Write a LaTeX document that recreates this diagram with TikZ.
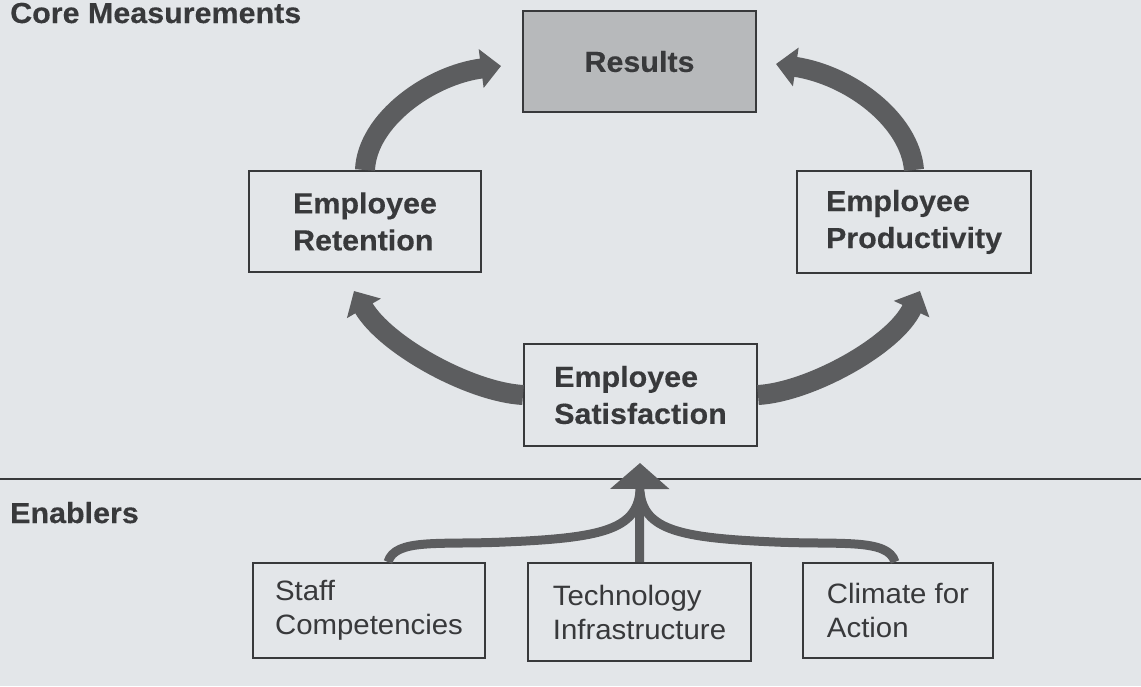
\documentclass[tikz,border=0pt]{standalone}
\usepackage{fontspec}
\setmainfont{Liberation Sans}
\newfontfamily\hbold[FakeStretch=1.05,FakeBold=0.3]{Liberation Sans Bold}
\newfontfamily\hreg[FakeStretch=1.05]{Liberation Sans}
\usetikzlibrary{arrows.meta,calc}
\definecolor{bg}{HTML}{E3E6E9}
\definecolor{ink}{HTML}{38393B}
\definecolor{arr}{HTML}{5C5D5F}
\definecolor{resfill}{HTML}{B7B9BB}
\tikzset{
  box/.style={draw=ink, line width=2pt, fill=bg, align=left, inner sep=0pt},
  bigtxt/.style={font=\hbold\fontsize{29}{37}\selectfont, text=ink},
  smalltxt/.style={font=\hreg\fontsize{28}{34}\selectfont, text=ink},
  fatarrow/.style={draw=arr, line width=20pt, -{Triangle[width=38pt,length=20pt]}},
  thinarrow/.style={draw=arr, line width=9pt},
  heading/.style={font=\hbold\fontsize{29}{30}\selectfont, text=ink, anchor=base west, inner sep=0pt}
}
\begin{document}
\begin{tikzpicture}[x=1pt,y=-1pt]
\fill[bg] (0,0) rectangle (1141,686);
\useasboundingbox (0,0) rectangle (1141,686);

\node[heading] (core) at (10,23) {Core Measurements};
\node[heading] (enab) at (10,523) {Enablers};
\draw[ink, line width=1.5pt] (0,479) coordinate (hl) -- (1141,479) coordinate (hr);

\node[box, bigtxt, fill=resfill, minimum width=233pt, minimum height=101pt] (res) at (639.5,61.5) {Results};
\node[box, bigtxt, minimum width=232pt, minimum height=101pt] (ret) at (365,221.5) {Employee\\Retention};
\node[box, bigtxt, minimum width=234pt, minimum height=102pt] (prod) at (914,222) {Employee\\Productivity};
\node[box, bigtxt, minimum width=233pt, minimum height=102pt] (sat) at (640.5,395) {Employee\\Satisfaction};

\node[box, smalltxt, minimum width=232pt, minimum height=95pt] (staff) at (369,610.5) {Staff\\Competencies};
\node[box, smalltxt, minimum width=223pt, minimum height=98pt] (tech) at (639.5,612) {Technology\\Infrastructure};
\node[box, smalltxt, minimum width=190pt, minimum height=95pt] (clim) at (898,610.5) {Climate for\\Action};

\coordinate (ulTip) at (501,66);
\coordinate (urTip) at (776,64);
\coordinate (llTip) at (354,291);
\coordinate (lrTip) at (920,291);
\coordinate (join) at (640,492);
\coordinate (upTip) at (640,463);

\draw[fatarrow] (ret.north) .. controls (367,120) and (430,75) .. (ulTip);
\draw[fatarrow] (prod.north) .. controls (910,120) and (850,75) .. (urTip);
\draw[fatarrow] (sat.west) .. controls (470,392) and (385,345) .. (llTip);
\draw[fatarrow] (sat.east) .. controls (810,392) and (895,345) .. (lrTip);

\draw[thinarrow] ($(staff.north)+(19,0)$) .. controls (395,538) and (440,545) .. (505,542) .. controls (600,538) and (636,530) .. (join);
\draw[thinarrow] ($(clim.north)+(-3,0)$) .. controls (888,538) and (840,545) .. (775,542) .. controls (680,538) and (644,530) .. (join);
\draw[thinarrow, -{Triangle[width=58pt,length=26pt]}] (tech.north) -- (upTip);
\end{tikzpicture}
\end{document}
